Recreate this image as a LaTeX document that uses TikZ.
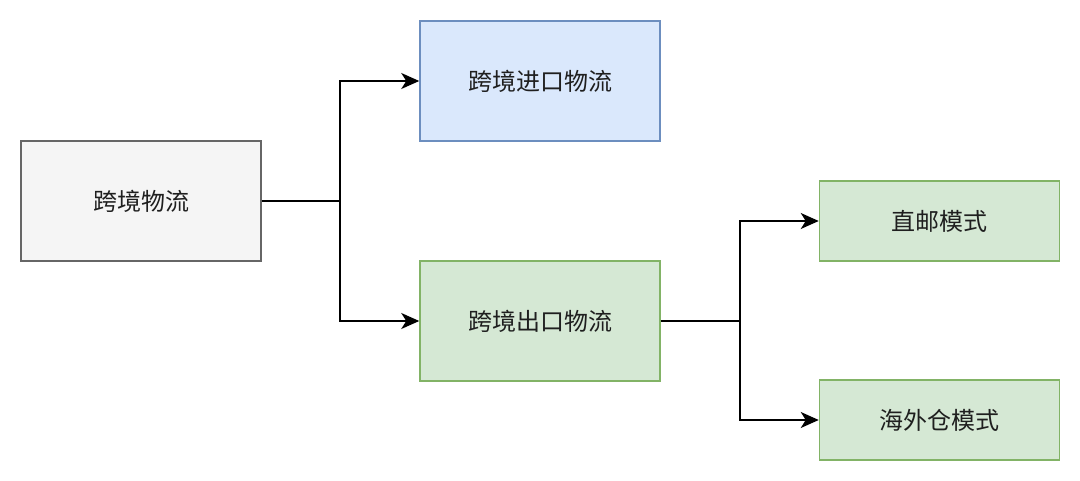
\documentclass[tikz,border=0pt]{standalone}
\usepackage{fontspec}
\newfontfamily\cjk{Noto Sans CJK SC}
\usetikzlibrary{arrows.meta}
\definecolor{grayfill}{HTML}{F5F5F5}
\definecolor{graydraw}{HTML}{666666}
\definecolor{bluefill}{HTML}{DAE8FC}
\definecolor{bluedraw}{HTML}{6C8EBF}
\definecolor{greenfill}{HTML}{D5E8D4}
\definecolor{greendraw}{HTML}{82B366}
\tikzset{
  box/.style={draw, line width=1.5pt, minimum width=240pt, inner sep=0pt, font=\cjk\fontsize{24}{28}\selectfont, text=black!88},
  graybox/.style={box, fill=grayfill, draw=graydraw, minimum height=120pt},
  bluebox/.style={box, fill=bluefill, draw=bluedraw, minimum height=120pt},
  greenbox/.style={box, fill=greenfill, draw=greendraw, minimum height=120pt},
  smallbox/.style={box, fill=greenfill, draw=greendraw, minimum height=80pt},
  conn/.style={line width=1.5pt, -{Stealth[length=18pt,width=16pt,inset=5pt]}},
}
\begin{document}
\begin{tikzpicture}[x=1pt,y=-1pt]
\useasboundingbox (0,0) rectangle (1080,481);
\fill[white] (0,0) rectangle (1080,481);
\node[graybox] (root) at (141,201) {跨境物流};
\node[bluebox] (imp) at (540,81) {跨境进口物流};
\node[greenbox] (exp) at (540,321) {跨境出口物流};
\node[smallbox] (direct) at (939.5,221) {直邮模式};
\node[smallbox] (oversea) at (939.5,420) {海外仓模式};
\coordinate (j1) at (340,201);
\coordinate (j2) at (740,321);
\draw[conn] (root.east) -- (j1) |- (imp.west);
\draw[conn] (root.east) -- (j1) |- (exp.west);
\draw[conn] (exp.east) -- (j2) |- (direct.west);
\draw[conn] (exp.east) -- (j2) |- (oversea.west);
\end{tikzpicture}
\end{document}
